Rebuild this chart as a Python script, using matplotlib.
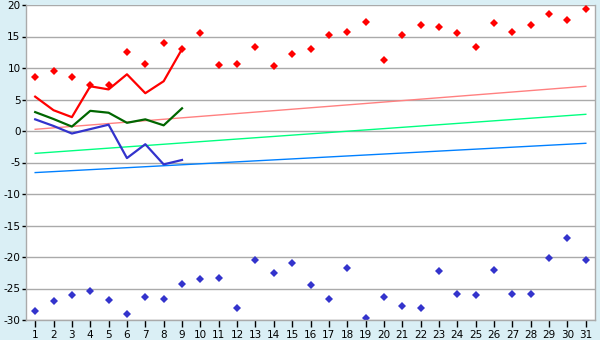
import matplotlib
matplotlib.use("Agg")
import matplotlib.pyplot as plt
import numpy as np

days = list(range(1, 32))
high_pts = [8.5, 9.5, 8.5, 7.25, 7.25, 12.5, 10.6, 13.9, 13.0, 15.5,
            10.4, 10.7, 13.4, 10.3, 12.2, 13.0, 15.2, 15.7, 17.3, 11.2,
            15.3, 16.8, 16.5, 15.5, 13.4, 17.1, 15.7, 16.8, 18.5, 17.6, 19.3]
low_pts = [-28.6, -27.0, -26.1, -25.4, -26.9, -29.1, -26.4, -26.7, -24.3, -23.5,
           -23.4, -28.1, -20.5, -22.6, -21.0, -24.5, -26.7, -21.8, -29.7, -26.4,
           -27.8, -28.1, -22.3, -25.9, -26.1, -22.1, -25.9, -25.9, -20.2, -17.0, -20.4]
line_days = list(range(1, 10))
max_line = [5.45, 3.3, 2.2, 7.1, 6.6, 9.0, 6.0, 7.9, 13.0]
mean_line = [3.0, 1.9, 0.7, 3.2, 2.9, 1.3, 1.85, 0.9, 3.6]
min_line = [1.85, 0.8, -0.4, 0.3, 1.0, -4.3, -2.1, -5.3, -4.6]
trend_days = [1, 31]
trend_max = [0.27, 7.1]
trend_mean = [-3.55, 2.65]
trend_min = [-6.6, -1.95]
y_ticks = list(range(-30, 21, 5))

fig = plt.figure(figsize=(6, 3.4), dpi=100, facecolor="#daeff5")
ax = fig.add_axes([26/600, 20/340, (595-26)/600, (320-5)/340])
ax.set_facecolor("white")

ax.set_xlim(0.5, 31.5)
ax.set_ylim(-30, 20)
ax.set_yticks(y_ticks)
ax.set_xticks(days)
ax.grid(axis="y", color="#aaaaaa", linewidth=1)
ax.set_axisbelow(True)

ax.spines["top"].set_visible(False)
for s in ["left", "bottom", "right"]:
    ax.spines[s].set_color("#aaaaaa")
    ax.spines[s].set_linewidth(1)

ax.tick_params(axis="y", length=3, width=1, color="black", labelsize=7.5, pad=1)
ax.tick_params(axis="x", length=5, width=1, color="black", labelsize=7.5, pad=2)
ax.set_yticklabels([str(v) for v in y_ticks])

ax.plot(trend_days, trend_max, color="#ff8080", linewidth=1)
ax.plot(trend_days, trend_mean, color="#00ff80", linewidth=1)
ax.plot(trend_days, trend_min, color="#0080ff", linewidth=1)

ax.plot(line_days, max_line, color="#ff0000", linewidth=1.6)
ax.plot(line_days, mean_line, color="#006600", linewidth=1.6)
ax.plot(line_days, min_line, color="#3333cc", linewidth=1.6)

ax.plot(days, high_pts, linestyle="none", marker="D", markersize=4.2,
        color="#ff0000", markeredgewidth=0)
ax.plot(days, low_pts, linestyle="none", marker="D", markersize=3.8,
        color="#3333cc", markeredgewidth=0)

fig.savefig("out.png", dpi=100, facecolor=fig.get_facecolor())
